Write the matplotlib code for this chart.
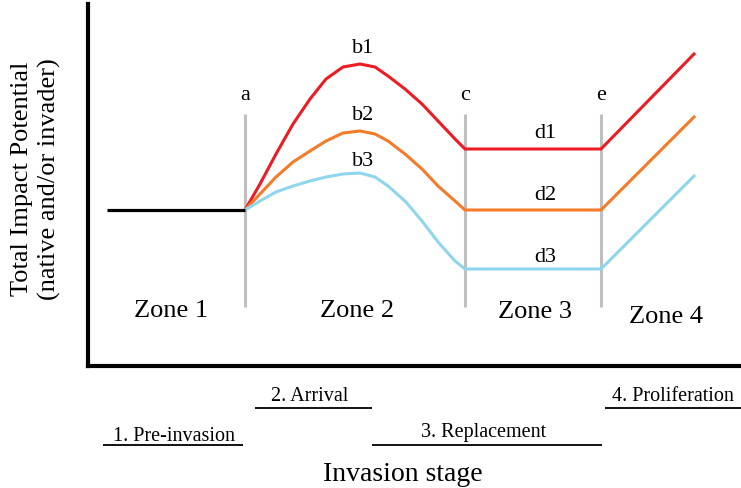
import matplotlib
matplotlib.use("Agg")
import matplotlib.pyplot as plt

# ---- data (diagram units: x = invasion progress, y = impact) ----
stage_x = [245, 465, 601]            # boundaries a, c, e
stage_letters = ["a", "c", "e"]
baseline_x = [107, 245]
baseline_y = [211, 211]

curve_x = [245, 260, 276, 293, 310, 326, 343, 360, 375, 388, 405, 422, 438, 455, 465, 601, 694]
red_y = [211, 185, 155, 125, 100, 80, 68, 65, 68, 77, 90, 105, 122, 140, 150, 150, 55]
orange_y = [211, 195, 178, 163, 152, 142, 134, 132, 135, 142, 155, 170, 187, 202, 211, 211, 118]
blue_y = [211, 202, 193, 187, 182, 178, 175, 174, 178, 187, 202, 222, 243, 262, 270, 270, 177]

peak_labels = ["b1", "b2", "b3"]
flat_labels = ["d1", "d2", "d3"]
zone_labels = ["Zone 1", "Zone 2", "Zone 3", "Zone 4"]
stage_labels = ["1. Pre-invasion", "2. Arrival", "3. Replacement", "4. Proliferation"]

RED, ORANGE, BLUE = "#ec1c24", "#f47b29", "#8fd6ec"
GREY = "#bfbfbf"
FONT = "Liberation Serif"

W, H = 741, 489
fig = plt.figure(figsize=(W / 100, H / 100), dpi=100)
L, R, T, B = 88, 741, 5, 367
ax = fig.add_axes([L / W, 1 - B / H, (R - L) / W, (B - T) / H])
ax.set_xlim(L, R)
ax.set_ylim(B, T)
for s in ["top", "right"]:
    ax.spines[s].set_visible(False)
for s in ["left", "bottom"]:
    ax.spines[s].set_linewidth(3)
    ax.spines[s].set_color("black")
    ax.spines[s].set_capstyle("projecting")
ax.set_xticks([])
ax.set_yticks([])

# stage boundary lines
for x, lab in zip(stage_x, stage_letters):
    ax.plot([x, x], [115, 308], color=GREY, lw=2.2, zorder=1, solid_capstyle="butt")
    ax.text(x, 100, lab, ha="center", va="baseline", fontsize=16, family=FONT)

ax.plot(baseline_x, baseline_y, color="black", lw=2.3, zorder=3, solid_capstyle="butt")
for y, c in [(red_y, RED), (orange_y, ORANGE), (blue_y, BLUE)]:
    ax.plot(curve_x, y, color=c, lw=2.2, zorder=2, solid_joinstyle="round")

for lab, yb in zip(peak_labels, [53, 120, 166]):
    ax.text(363, yb, lab, ha="center", va="baseline", fontsize=16, family=FONT)
for lab, yb in zip(flat_labels, [138, 200, 262]):
    ax.text(545, yb, lab, ha="center", va="baseline", fontsize=16, family=FONT)

for lab, xc, yb in zip(zone_labels, [171, 357, 535, 666], [317, 317, 318, 323]):
    ax.text(xc, yb, lab, ha="center", va="baseline", fontsize=19, family=FONT)

# stage annotations below axis
stage_cx = [174, 310, 484, 673]
stage_by = [441, 401, 437, 401]
under_y = [446, 409, 446, 409]
under_x0 = [103, 255, 372, 605]
under_x1 = [243, 372, 602, 741]
for lab, xc, yb, uy, x0, x1 in zip(stage_labels, stage_cx, stage_by, under_y, under_x0, under_x1):
    ax.text(xc, yb, lab, ha="center", va="baseline", fontsize=14.5, family=FONT, clip_on=False)
    ax.plot([x0, x1], [uy, uy], color="black", lw=1.3, clip_on=False, solid_capstyle="butt")

ax.text(403, 481, "Invasion stage", ha="center", va="baseline", fontsize=20, family=FONT, clip_on=False)
ax.text(22, 179, "Total Impact Potential", ha="center", va="center", rotation=90,
        fontsize=19, family=FONT, clip_on=False)
ax.text(49, 179, "(native and/or invader)", ha="center", va="center", rotation=90,
        fontsize=19, family=FONT, clip_on=False)

fig.savefig("out.png", dpi=100)
